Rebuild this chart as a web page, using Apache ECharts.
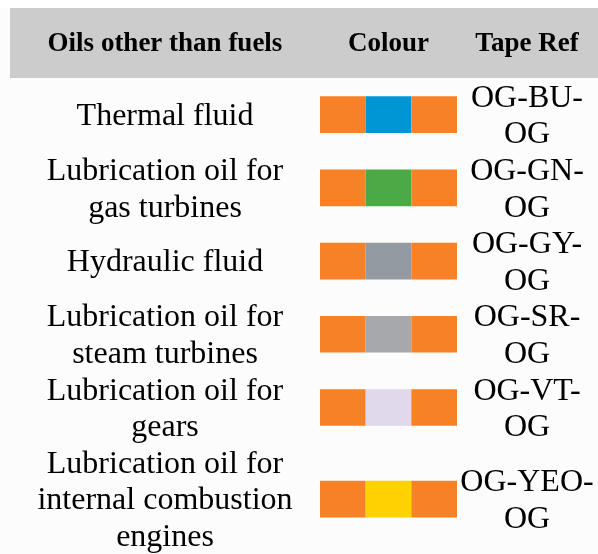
<!DOCTYPE html>
<html>
<head>
<meta charset="utf-8">
<script src="https://cdn.jsdelivr.net/npm/echarts@6/dist/echarts.min.js"></script>
<style>
html, body { margin: 0; padding: 0; background: #fcfcfc; }
#chart { width: 598px; height: 554px; }
</style>
</head>
<body>
<div id="chart"></div>
<script>
const headers = ['Oils other than fuels', 'Colour', 'Tape Ref'];
const oils = [
    'Thermal fluid',
    'Lubrication oil for\ngas turbines',
    'Hydraulic fluid',
    'Lubrication oil for\nsteam turbines',
    'Lubrication oil for\ngears',
    'Lubrication oil for\ninternal combustion\nengines'
];
const tapeRefs = ['OG-BU-\nOG', 'OG-GN-\nOG', 'OG-GY-\nOG', 'OG-SR-\nOG', 'OG-VT-\nOG', 'OG-YEO-\nOG'];
const bandColours = ['#0096D6', '#4BAA46', '#939AA1', '#A6A8AB', '#E0D8EB', '#FFD200'];
const edgeColour = '#F68127';

// each row is as tall as its longest cell, counted in text lines
const lineCount = s => s.split('\n').length;
const rowLines = oils.map((o, i) => Math.max(lineCount(o), lineCount(tapeRefs[i])));
const rowCentres = [];
let total = 0;
rowLines.forEach(n => {
    rowCentres.push(total + n / 2);
    total += n;
});

const serif = '"Liberation Serif", "Times New Roman", serif';
const columns = [
    { left: 10, width: 310, max: 1 },
    { left: 320, width: 137, max: 3 },
    { left: 459, width: 136, max: 1 }
];

let myChart = echarts.init(document.getElementById('chart'));

function textSeries(texts, k) {
    return {
        type: 'custom',
        xAxisIndex: k,
        yAxisIndex: k,
        clip: false,
        silent: true,
        data: texts.map((t, i) => [0.5, rowCentres[i]]),
        renderItem: (params, api) => {
            let p = api.coord([api.value(0), api.value(1)]);
            let lh = api.size([0, 1])[1];
            return {
                type: 'text',
                style: {
                    text: texts[params.dataIndex],
                    x: p[0],
                    y: p[1] + 2,
                    align: 'center',
                    verticalAlign: 'middle',
                    fontFamily: serif,
                    fontSize: 32,
                    lineHeight: lh,
                    fill: '#000'
                }
            };
        }
    };
}

let swatchData = [];
bandColours.forEach((c, row) => {
    for (let band = 0; band < 3; band++) {
        swatchData.push([band, rowCentres[row], row]);
    }
});

let option = {
    animation: false,
    backgroundColor: '#fcfcfc',
    graphic: [
        { type: 'rect', left: 0, top: 0, shape: { width: 598, height: 8 }, style: { fill: '#ffffff' }, z: -10 },
        { type: 'rect', left: 10, top: 8, shape: { width: 588, height: 70 }, style: { fill: '#cccccc' }, z: -10 }
    ],
    grid: columns.map(c => ({ left: c.left, width: c.width, top: 78, height: 477 })),
    xAxis: columns.map((c, k) => ({
        gridIndex: k,
        type: 'value',
        min: 0,
        max: c.max,
        position: 'top',
        name: headers[k],
        nameLocation: 'middle',
        nameGap: 34,
        nameTextStyle: {
            fontFamily: serif,
            fontSize: 27,
            fontWeight: 'bold',
            color: '#000',
            verticalAlign: 'middle'
        },
        axisLine: { show: false },
        axisTick: { show: false },
        axisLabel: { show: false },
        splitLine: { show: false }
    })),
    yAxis: columns.map((c, k) => ({
        gridIndex: k,
        type: 'value',
        min: 0,
        max: total,
        inverse: true,
        show: false
    })),
    series: [
        textSeries(oils, 0),
        {
            type: 'custom',
            xAxisIndex: 1,
            yAxisIndex: 1,
            silent: true,
            data: swatchData,
            renderItem: (params, api) => {
                let start = api.coord([api.value(0), api.value(1)]);
                let size = api.size([1, 1]);
                let band = api.value(0);
                return {
                    type: 'rect',
                    shape: { x: start[0], y: start[1] - size[1] / 2, width: size[0], height: size[1] },
                    style: { fill: band === 1 ? bandColours[api.value(2)] : edgeColour }
                };
            }
        },
        textSeries(tapeRefs, 2)
    ]
};

myChart.setOption(option);
</script>
</body>
</html>
